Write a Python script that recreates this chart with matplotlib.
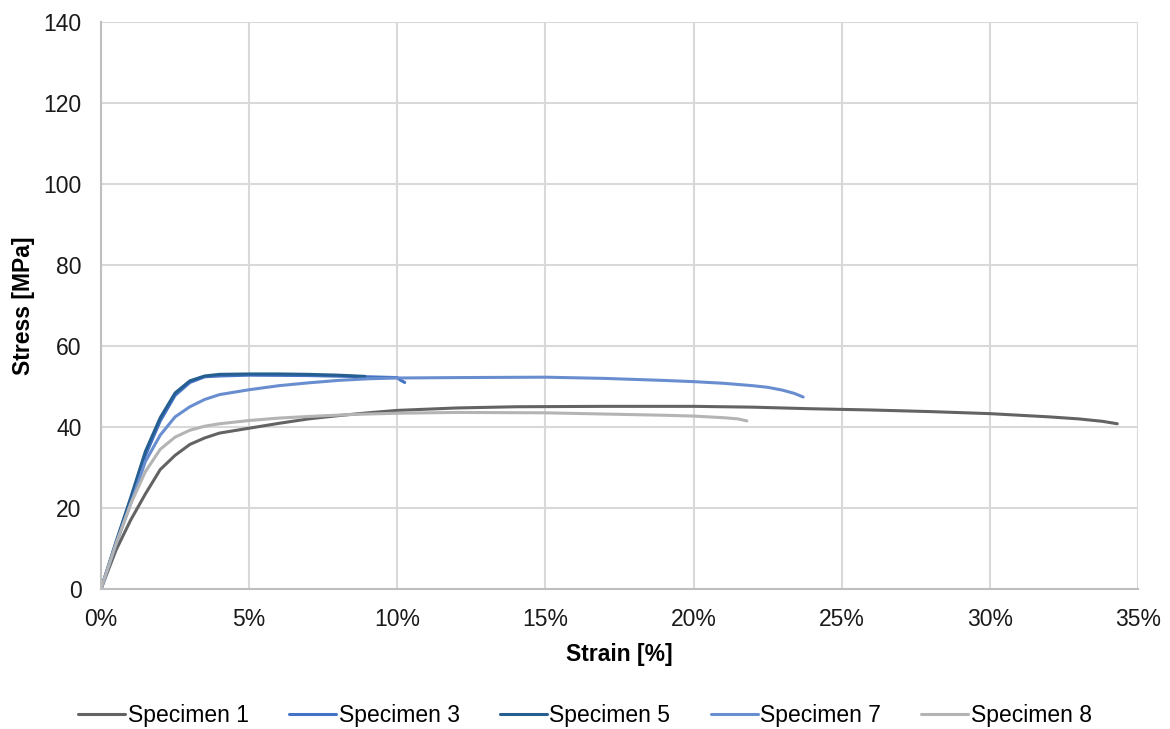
import matplotlib
matplotlib.use("Agg")
import matplotlib.pyplot as plt
from matplotlib.ticker import FuncFormatter, MultipleLocator

plt.rcParams["font.family"] = ["Liberation Sans", "DejaVu Sans"]

# strain [%] / stress [MPa] for each specimen
s1_strain = [0, 0.5, 1.0, 1.5, 2.0, 2.5, 3.0, 3.5, 4.0, 5.0, 6.0, 7.0, 8.0, 9.0, 10.0, 12.0, 14.0,
             17.0, 20.0, 22.0, 24.0, 26.0, 28.0, 30.0, 32.0, 33.0, 33.8, 34.3]
s1_stress = [0, 9.5, 17.0, 23.5, 29.5, 33.0, 35.7, 37.3, 38.5, 39.7, 40.9, 42.0, 42.8, 43.5, 44.1, 44.7, 45.0,
             45.1, 45.1, 44.9, 44.5, 44.2, 43.8, 43.3, 42.5, 42.0, 41.4, 40.8]

s3_strain = [0, 0.5, 1.0, 1.5, 2.0, 2.5, 3.0, 3.5, 4.0, 5.0, 7.0, 9.0, 10.0, 10.1, 10.25]
s3_stress = [0, 11.0, 22.0, 33.0, 41.5, 47.8, 51.0, 52.4, 52.6, 52.8, 52.7, 52.4, 52.2, 51.6, 51.0]

s5_strain = [0, 0.5, 1.0, 1.5, 2.0, 2.5, 3.0, 3.5, 4.0, 5.0, 6.0, 7.0, 8.0, 8.9]
s5_stress = [0, 11.5, 22.5, 34.0, 42.3, 48.4, 51.4, 52.6, 53.0, 53.1, 53.1, 53.0, 52.8, 52.5]

s7_strain = [0, 0.5, 1.0, 1.5, 2.0, 2.5, 3.0, 3.5, 4.0, 5.0, 6.0, 7.0, 8.0, 9.0, 10.0, 12.0, 15.0,
             17.0, 19.0, 20.0, 21.0, 22.0, 22.5, 23.0, 23.4, 23.7]
s7_stress = [0, 11.0, 21.0, 31.5, 38.0, 42.5, 45.0, 46.8, 48.0, 49.2, 50.2, 50.9, 51.5, 51.9, 52.1, 52.2, 52.3,
             52.0, 51.5, 51.2, 50.8, 50.2, 49.8, 49.1, 48.3, 47.4]

s8_strain = [0, 0.5, 1.0, 1.5, 2.0, 2.5, 3.0, 3.5, 4.0, 5.0, 6.0, 7.0, 8.5, 10.0, 12.0, 15.0,
             17.0, 19.0, 20.0, 21.0, 21.5, 21.8]
s8_stress = [0, 11.0, 21.0, 29.0, 34.5, 37.5, 39.2, 40.2, 40.8, 41.6, 42.2, 42.6, 43.1, 43.4, 43.6, 43.5,
             43.2, 42.9, 42.7, 42.3, 42.0, 41.5]

series = [
    ("Specimen 1", s1_strain, s1_stress, "#636363"),
    ("Specimen 3", s3_strain, s3_stress, "#4472C4"),
    ("Specimen 5", s5_strain, s5_stress, "#255E91"),
    ("Specimen 7", s7_strain, s7_stress, "#698ED0"),
    ("Specimen 8", s8_strain, s8_stress, "#B4B4B4"),
]

fig = plt.figure(figsize=(11.7, 7.29), dpi=100)
ax = fig.add_axes([101 / 1170, 140 / 729, 1037 / 1170, 567 / 729])

for name, x, y, c in series:
    ax.plot(x, y, color=c, lw=2.2, label=name, solid_capstyle="round")

ax.set_xlim(0, 35)
ax.set_ylim(0, 140)
ax.xaxis.set_major_locator(MultipleLocator(5))
ax.yaxis.set_major_locator(MultipleLocator(20))
ax.xaxis.set_major_formatter(FuncFormatter(lambda v, _: f"{v:.0f}%"))
ax.grid(color="#D9D9D9", lw=1.5)
ax.set_axisbelow(True)
for side in ("top", "right"):
    ax.spines[side].set_visible(False)
for side in ("left", "bottom"):
    ax.spines[side].set_color("#BFBFBF")
    ax.spines[side].set_linewidth(1.5)
ax.tick_params(length=0, labelsize=16.5, pad=14)
for lbl in ax.get_xticklabels() + ax.get_yticklabels():
    lbl.set_color("#1a1a1a")

ax.set_xlabel("Strain [%]", fontsize=16.5, fontweight="bold", labelpad=8)
ax.set_ylabel("Stress [MPa]", fontsize=16.5, fontweight="bold", labelpad=6)

fig.legend(loc="lower center", bbox_to_anchor=(0.5, -0.01), ncol=5, frameon=False,
           fontsize=16.5, handlelength=2.05, handletextpad=0.12, columnspacing=1.75,
           borderaxespad=0.0)

fig.savefig("out.png", dpi=100)
